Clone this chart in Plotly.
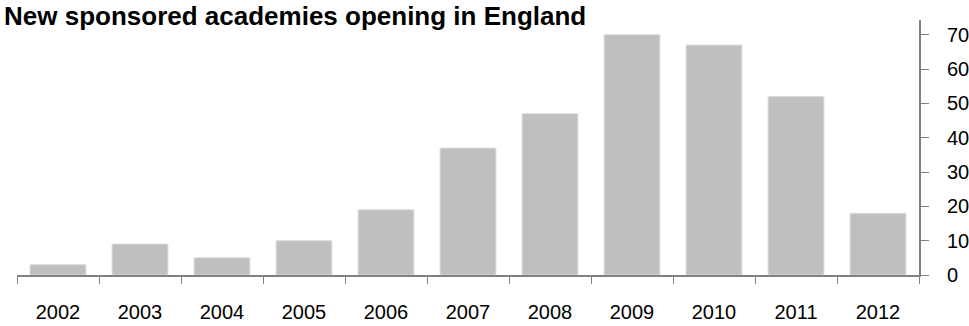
import plotly.graph_objects as go

# Academies opening per year
years = ["2002", "2003", "2004", "2005", "2006", "2007", "2008", "2009", "2010", "2011", "2012"]
openings = [3, 9, 5, 10, 19, 37, 47, 70, 67, 52, 18]
y_ticks = [0, 10, 20, 30, 40, 50, 60, 70]

title_text = "<b>New sponsored academies opening in England</b>"

fig = go.Figure(
    go.Bar(
        x=years,
        y=openings,
        marker=dict(color="#bfbfbf", line=dict(color="#dadada", width=1)),
        width=0.68,
    )
)

axis_font = dict(family="Liberation Sans, Arial, sans-serif", size=20, color="#000000")

# plot area: 902 px wide, 255 px tall
plot_w, plot_h = 902, 255

fig.add_annotation(
    text=title_text,
    xref="paper",
    yref="paper",
    x=(2 - 17) / plot_w,
    y=1 + (20 - 16) / plot_h,
    xanchor="left",
    yanchor="middle",
    showarrow=False,
    font=dict(family="Liberation Sans, Arial, sans-serif", size=26, color="#000000"),
)

fig.update_layout(
    width=969,
    height=326,
    margin=dict(l=17, r=50, t=20, b=51),
    paper_bgcolor="white",
    plot_bgcolor="white",
    showlegend=False,
    bargap=0.32,
    xaxis=dict(
        type="category",
        automargin=False,
        showline=True,
        linecolor="#808080",
        linewidth=2,
        ticks="outside",
        tickson="boundaries",
        ticklen=7,
        tickcolor="#808080",
        tickwidth=1,
        showgrid=False,
        tickfont=axis_font,
        ticklabelstandoff=18,
    ),
    yaxis=dict(
        side="right",
        automargin=False,
        range=[0, 74.3],
        tickvals=y_ticks,
        showline=True,
        linecolor="#808080",
        linewidth=2,
        ticks="outside",
        ticklen=8,
        tickcolor="#808080",
        tickwidth=1,
        showgrid=False,
        zeroline=False,
        tickfont=axis_font,
        ticklabelstandoff=14,
    ),
)

fig.write_html("out.html")
